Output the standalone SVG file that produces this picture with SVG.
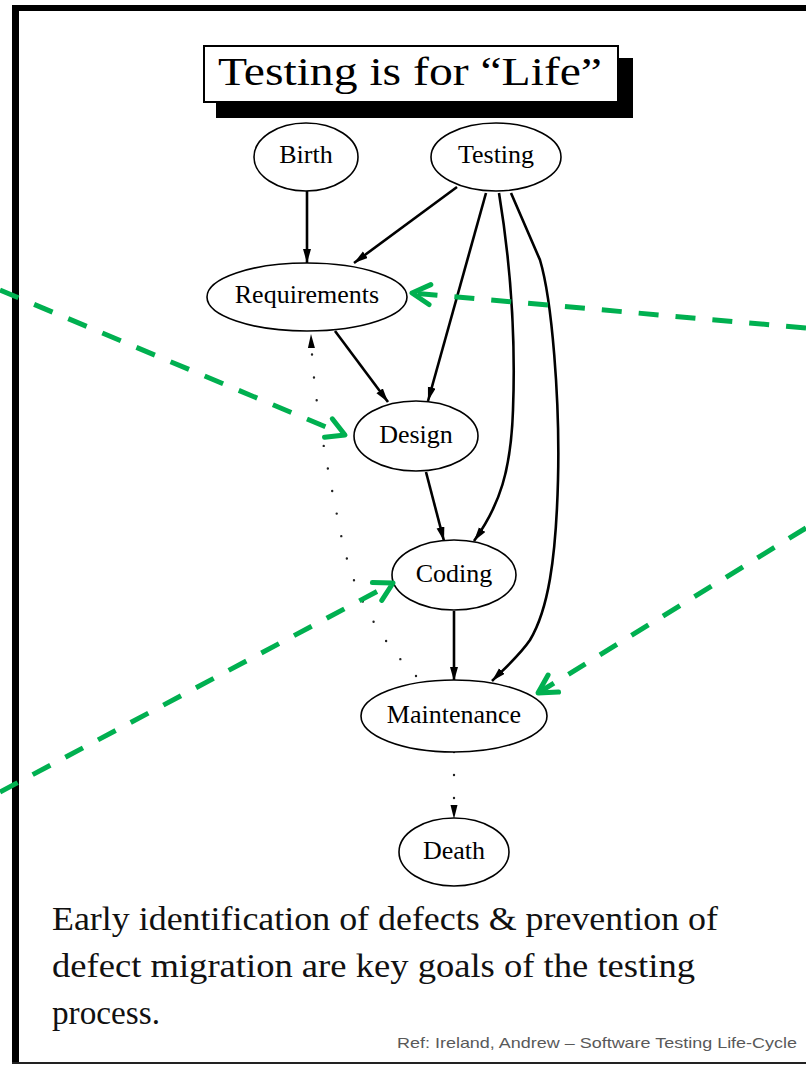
<svg xmlns="http://www.w3.org/2000/svg" width="806" height="1066" viewBox="0 0 806 1066">
<style>
.node ellipse{fill:#fff;stroke:#000;stroke-width:1.6}
.node text{font-family:"Liberation Serif","Times New Roman",serif;font-size:26px;fill:#000;text-anchor:middle}
.edge{fill:none;stroke:#000;stroke-width:2.6;marker-end:url(#ah)}
.dot{fill:none;stroke:#222;stroke-width:2.4;stroke-dasharray:0 23;stroke-linecap:round;marker-end:url(#ah2)}
.green{fill:none;stroke:#00b050;stroke-width:5;stroke-dasharray:20 17;marker-end:url(#gh)}
.body{font-family:"Liberation Serif","Times New Roman",serif;font-size:33px;fill:#111}
</style>
<defs>
<marker id="ah" markerUnits="userSpaceOnUse" markerWidth="16" markerHeight="10" refX="14" refY="4" orient="auto"><path d="M0,0 L14,4 L0,8 z" fill="#000"/></marker>
<marker id="ah2" markerUnits="userSpaceOnUse" markerWidth="16" markerHeight="10" refX="14" refY="4" orient="auto"><path d="M0,0.5 L14,4 L0,7.5 z" fill="#000"/></marker>
<marker id="gh" markerUnits="userSpaceOnUse" markerWidth="30" markerHeight="30" refX="23" refY="12" orient="auto" overflow="visible"><path d="M5,2 L23,12 L5,22" fill="none" stroke="#00b050" stroke-width="5" stroke-linecap="round" stroke-linejoin="round"/></marker>
</defs>
<rect width="806" height="1066" fill="#fff"/>
<g id="frame">
<rect x="12" y="5" width="794" height="6" fill="#000"/>
<rect x="12" y="5" width="7" height="1059" fill="#000"/>
<rect x="12" y="1062" width="794" height="2" fill="#222"/>
</g>
<g id="title">
<rect x="216" y="58" width="417" height="60" fill="#000"/>
<rect x="204" y="46" width="414" height="56" fill="#fff" stroke="#000" stroke-width="2"/>
<text x="218" y="85" font-family="Liberation Serif, Times New Roman, serif" font-size="40" textLength="384" lengthAdjust="spacingAndGlyphs">Testing is for “Life”</text>
</g>
<g id="connectors">
<path class="edge" d="M307,191 L307,263"/>
<path class="edge" d="M457,187 L354,263"/>
<path class="edge" d="M486,193 L428,401"/>
<path class="edge" d="M499,193 C510,260 516,330 513,410 C511,470 500,505 474,541"/>
<path class="edge" d="M511,193 L540,260 C552,300 560,400 558,480 C556,560 548,610 530,640 C520,655 505,668 492,681"/>
<path class="edge" d="M335,331 L388,402"/>
<path class="edge" d="M426,472 L444,541"/>
<path class="edge" d="M454,611 L454,681"/>
<path class="dot" d="M416,676 C375,635 352,590 340,530 C328,470 313,400 311,334"/>
<path class="dot" d="M454,752 L454,819"/>
</g>
<g id="n-birth" class="node"><ellipse cx="306" cy="157" rx="52" ry="34"/><text x="306" y="163">Birth</text></g>
<g id="n-testing" class="node"><ellipse cx="496" cy="157" rx="65" ry="34"/><text x="496" y="163">Testing</text></g>
<g id="n-requirements" class="node"><ellipse cx="307" cy="297" rx="100" ry="34"/><text x="307" y="303">Requirements</text></g>
<g id="n-design" class="node"><ellipse cx="416" cy="436" rx="62" ry="35"/><text x="416" y="443">Design</text></g>
<g id="n-coding" class="node"><ellipse cx="454" cy="575" rx="62" ry="35"/><text x="454" y="582">Coding</text></g>
<g id="n-maintenance" class="node"><ellipse cx="454" cy="716" rx="93" ry="36"/><text x="454" y="723">Maintenance</text></g>
<g id="n-death" class="node"><ellipse cx="454" cy="852" rx="55" ry="34"/><text x="454" y="859">Death</text></g>
<g id="green-arrows">
<path class="green" d="M0,290 L345,435"/>
<path class="green" d="M806,328 L412,293"/>
<path class="green" d="M0,792 L393,583"/>
<path class="green" d="M806,528 L538,693"/>
</g>
<g id="caption">
<text class="body" x="52" y="930" textLength="666" lengthAdjust="spacingAndGlyphs">Early identification of defects &amp; prevention of</text>
<text class="body" x="52" y="977" textLength="643" lengthAdjust="spacingAndGlyphs">defect migration are key goals of the testing</text>
<text class="body" x="52" y="1024" textLength="108" lengthAdjust="spacingAndGlyphs">process.</text>
<text x="397" y="1048" font-family="Liberation Sans, Arial, sans-serif" font-size="15" fill="#595959" textLength="400" lengthAdjust="spacingAndGlyphs">Ref: Ireland, Andrew – Software Testing Life-Cycle</text>
</g>
</svg>
